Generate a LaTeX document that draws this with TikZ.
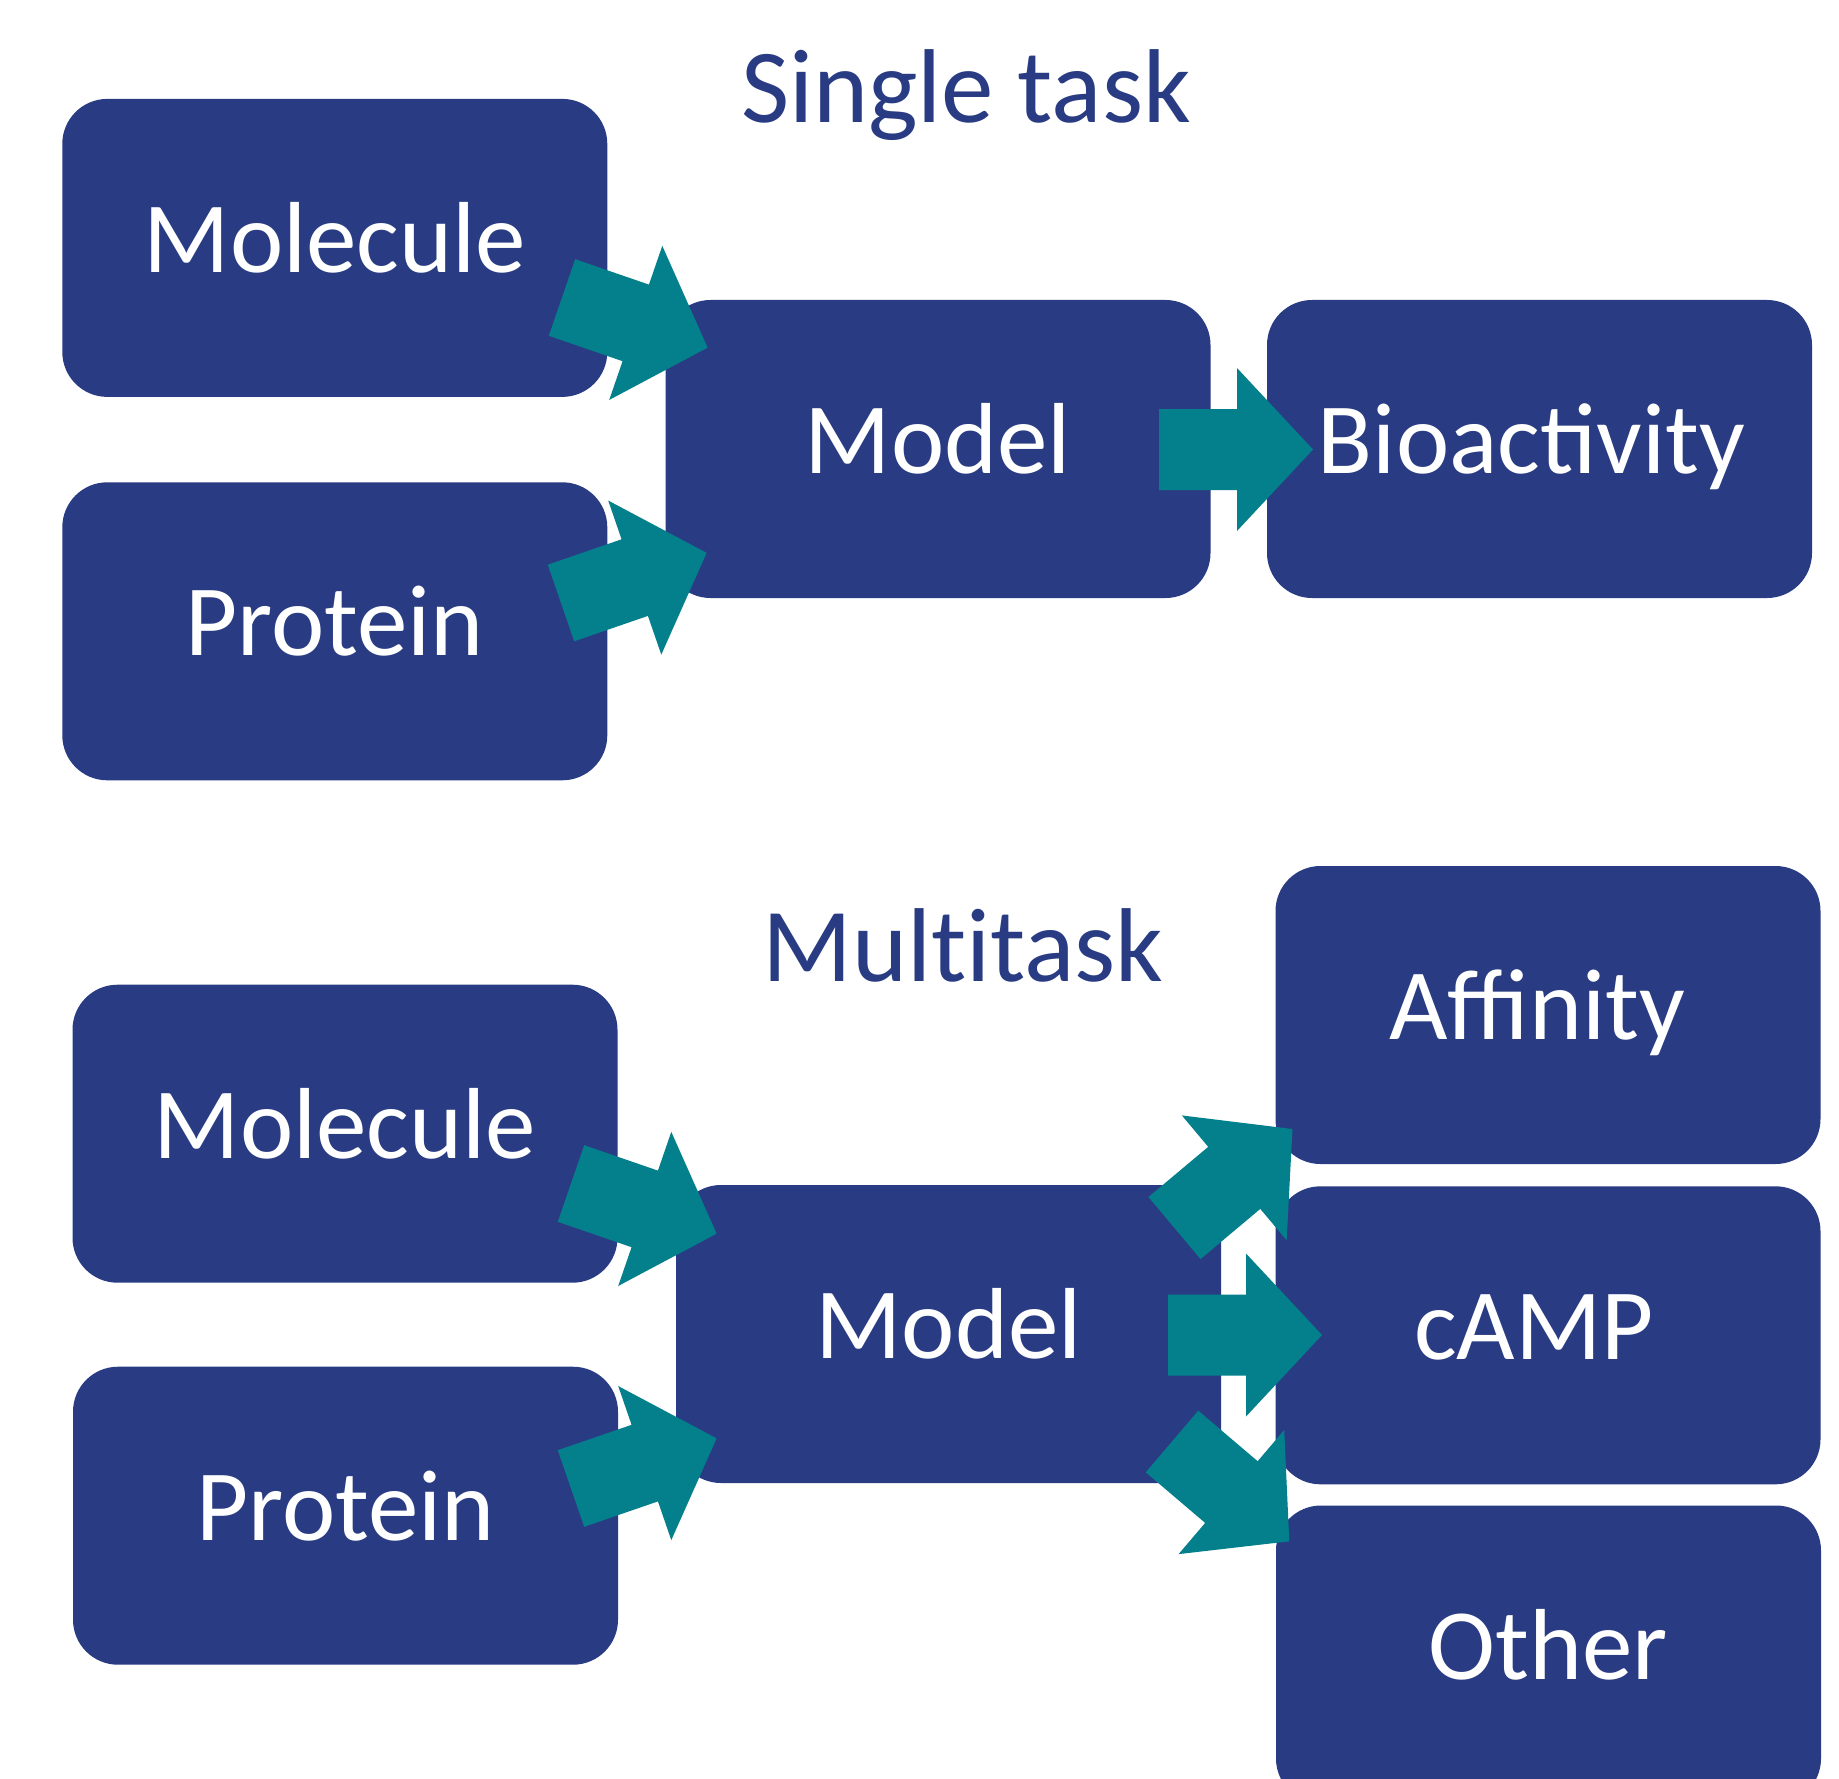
\documentclass[tikz,border=0pt]{standalone}
\usepackage{fontspec}
\setmainfont{Carlito}
\newfontfamily\titlefont[Ligatures=NoCommon]{Carlito}
\definecolor{navy}{RGB}{41,60,131}
\definecolor{tealarrow}{RGB}{3,128,140}
\tikzset{
  box/.style={fill=navy, rounded corners=45pt, minimum width=545pt, minimum height=298pt,
    inner sep=0pt, text=white, font=\fontsize{101pt}{120pt}\selectfont,
    text height=49pt, text depth=0pt},
  title/.style={anchor=base, text=navy, inner sep=0pt, font=\titlefont\fontsize{105pt}{126pt}\selectfont},
  blockarr/.pic={\fill[tealarrow] (0,-40.5) -- (78,-40.5) -- (78,-81.5) -- (154,0)
      -- (78,81.5) -- (78,40.5) -- (0,40.5) -- cycle;}
}
\begin{document}
\begin{tikzpicture}[x=1pt,y=-1pt]
\clip (0,0) rectangle (1839,1779);
\fill[white] (0,0) rectangle (1839,1779);

% Single task
\node[title] (t1) at (966,123) {Single task};
\node[box] (mol1) at (334.8,247.9) {Molecule};
\node[box] (prot1) at (334.8,631.3) {Protein};
\node[box] (model1) at (938,449) {Model};
\node[box] (bio1) at (1539.5,449) {\hspace*{-16pt}Bioactivity};

\coordinate (a1) at (562,297.5);
\coordinate (a2) at (561,603);
\coordinate (a3) at (1159,449.5);
\pic[rotate=-19] at (a1) {blockarr};
\pic[rotate=19] at (a2) {blockarr};
\pic at (a3) {blockarr};

% Multitask
\node[title] (t2) at (963,981.5) {Multitask};
\node[box] (mol2) at (345,1133.7) {Molecule};
\node[box] (prot2) at (345.5,1515.7) {Protein};
\node[box] (model2) at (948.5,1334) {Model};
\node[box] (aff) at (1548,1015) {\hspace*{-22pt}Affinity};
\node[box] (camp) at (1548,1335.3) {\hspace*{-28pt}cAMP};
\node[box] (other) at (1548.5,1654.5) {Other};

\coordinate (b1) at (571,1183.5);
\coordinate (b2) at (571,1488.5);
\coordinate (b3) at (1174.5,1228);
\coordinate (b4) at (1168,1335);
\coordinate (b5) at (1172,1441.5);
\pic[rotate=-19] at (b1) {blockarr};
\pic[rotate=19] at (b2) {blockarr};
\pic[rotate=40] at (b3) {blockarr};
\pic at (b4) {blockarr};
\pic[rotate=-40.4] at (b5) {blockarr};
\end{tikzpicture}
\end{document}
